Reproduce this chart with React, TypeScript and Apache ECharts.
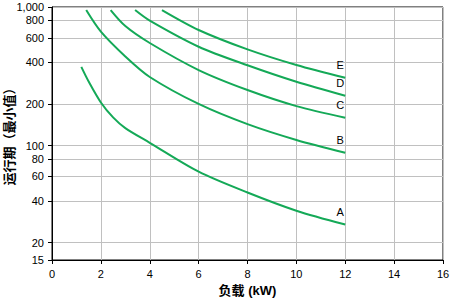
import React, { useEffect, useRef } from "react";
import * as echarts from "echarts";

const seriesNames = ["A", "B", "C", "D", "E"];
const curveA: [number, number][] = [[1.2, 370], [1.5, 290], [2, 205], [2.5, 160], [3, 134], [4, 105], [6, 65], [8, 46], [10, 34], [12, 27]];
const curveB: [number, number][] = [[1.4, 950], [2, 664], [3, 440], [4, 313], [6, 200], [8, 143], [10, 110], [12, 89]];
const curveC: [number, number][] = [[2.4, 950], [3, 729], [4, 550], [6, 351], [8, 252], [10, 193], [12, 159]];
const curveD: [number, number][] = [[3.4, 950], [4, 797], [6, 517], [8, 380], [10, 289], [12, 229]];
const curveE: [number, number][] = [[4.5, 950], [6, 683], [8, 495], [10, 382], [12, 309]];
const curves = [curveA, curveB, curveC, curveD, curveE];
const yTickValues = [15, 20, 40, 60, 80, 100, 200, 400, 600, 800, 1000];
const xMin = 0;
const xMax = 16;
const xInterval = 2;
const yTitle = "运行期（最小值）";
const xTitle = "负载 (kW)";

const font = "Arial, 'Liberation Sans', sans-serif";
const cjkFont = "Arial, 'Liberation Sans', 'Noto Sans CJK SC', sans-serif";

export default function App() {
  const ref = useRef<HTMLDivElement>(null);
  useEffect(() => {
    if (!ref.current) return;
    const chart = echarts.init(ref.current, undefined, { renderer: "svg" });
    const series = curves.map((c, i) => ({
      type: "line",
      name: seriesNames[i],
      smooth: 0.3,
      showSymbol: false,
      symbol: "none",
      lineStyle: { color: "#14a957", width: 2 },
      endLabel: {
        show: true,
        formatter: seriesNames[i],
        color: "#000000",
        fontSize: 11,
        fontFamily: font,
        distance: 0,
        align: "center",
        verticalAlign: "middle",
        offset: [-5, -13],
      },
      data: c,
    }));
    chart.setOption({
      animation: false,
      backgroundColor: "#fff",
      grid: {
        left: 52,
        right: 7,
        top: 7,
        bottom: 40,
        show: true,
        borderColor: "#000",
        borderWidth: 1,
        containLabel: false,
        outerBoundsMode: "none",
      },
      xAxis: {
        type: "value",
        min: xMin,
        max: xMax,
        interval: xInterval,
        name: xTitle,
        nameLocation: "middle",
        nameGap: 24,
        nameMoveOverlap: false,
        nameTextStyle: { fontSize: 13, fontWeight: "bold", color: "#000", fontFamily: cjkFont },
        axisLine: { show: true, lineStyle: { color: "#000", width: 1 } },
        axisTick: { show: true, length: 4, lineStyle: { color: "#000" } },
        axisLabel: { color: "#000", fontSize: 11, fontFamily: font, margin: 8 },
        splitLine: { show: true, lineStyle: { color: "#c0c0c0", width: 1 } },
      },
      yAxis: {
        type: "log",
        min: 15,
        max: 1000,
        logBase: 10,
        name: yTitle,
        nameLocation: "middle",
        nameGap: 36,
        nameMoveOverlap: false,
        nameTextStyle: { fontSize: 13, fontWeight: "bold", color: "#000", fontFamily: cjkFont },
        axisLine: { show: true, lineStyle: { color: "#000", width: 1 } },
        axisTick: { show: true, length: 4, lineStyle: { color: "#000" }, customValues: yTickValues },
        axisLabel: {
          color: "#000",
          fontSize: 11,
          fontFamily: font,
          margin: 8,
          customValues: yTickValues,
          formatter: (v: number) => Math.round(v).toLocaleString("en-US"),
        },
        splitLine: { show: true, lineStyle: { color: "#c0c0c0", width: 1 } },
        minorSplitLine: { show: false },
      },
      series,
    });
    return () => chart.dispose();
  }, []);
  return (
    <div
      ref={ref}
      style={{ position: "fixed", left: 0, top: 0, width: 450, height: 300 }}
    />
  );
}
